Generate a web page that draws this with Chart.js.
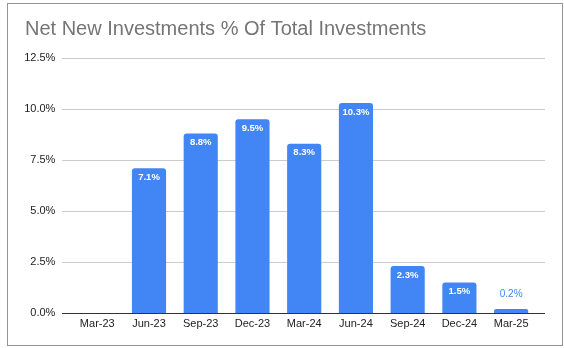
<!DOCTYPE html>
<html>
<head>
<meta charset="utf-8">
<script src="https://cdn.jsdelivr.net/npm/chart.js@4.4.1/dist/chart.umd.min.js"></script>
<style>
  html, body { margin: 0; padding: 0; background: #fff; }
  #wrap { position: relative; width: 564px; height: 348px; }
  #frame {
    position: absolute; left: 7px; top: 3px; width: 554px; height: 341px;
    border: 1px solid #939393; pointer-events: none;
  }
  canvas { position: absolute; left: 0; top: 0; }
</style>
</head>
<body>
<div id="wrap">
  <canvas id="chart" width="564" height="348"></canvas>
  <div id="frame"></div>
</div>
<script>
// quarterly net new investments as % of total
const quarters = ["Mar-23", "Jun-23", "Sep-23", "Dec-23", "Mar-24", "Jun-24", "Sep-24", "Dec-24", "Mar-25"];
const netNewPct = [null, 7.1, 8.8, 9.5, 8.3, 10.3, 2.3, 1.5, 0.2];
const yTicks = [0, 2.5, 5.0, 7.5, 10.0, 12.5];

const BLUE = "#4285f4";
const FONT = "'Liberation Sans', Arial, sans-serif";

// horizontal gridlines run a bit past the bars on both sides
const gridPlugin = {
  id: "wideGrid",
  beforeDatasetsDraw(chart) {
    const y = chart.scales.y, ctx = chart.ctx;
    const x0 = 62, x1 = 545;
    ctx.save();
    ctx.lineWidth = 1;
    yTicks.forEach(v => {
      if (v === 0) return;
      const py = Math.round(y.getPixelForValue(v)) + 0.5;
      ctx.strokeStyle = "#cccccc";
      ctx.beginPath(); ctx.moveTo(x0, py); ctx.lineTo(x1, py); ctx.stroke();
    });
    ctx.restore();
  },
  afterDatasetsDraw(chart) {
    const y = chart.scales.y, ctx = chart.ctx;
    const py = Math.round(y.getPixelForValue(0)) + 0.5;
    ctx.save();
    ctx.strokeStyle = "#333333";
    ctx.lineWidth = 1;
    ctx.beginPath(); ctx.moveTo(62, py); ctx.lineTo(545, py); ctx.stroke();
    ctx.restore();
  }
};

// value labels: inside the bar top, or above it when the bar is too short
const labelPlugin = {
  id: "barLabels",
  afterDatasetsDraw(chart) {
    const ctx = chart.ctx;
    const meta = chart.getDatasetMeta(0);
    ctx.save();
    ctx.textAlign = "center";
    ctx.textBaseline = "middle";
    meta.data.forEach((bar, i) => {
      const v = netNewPct[i];
      if (v === null) return;
      const h = bar.base - bar.y;
      if (h > 20) {
        ctx.font = "bold 9.5px " + FONT;
        ctx.fillStyle = "#ffffff";
        ctx.fillText(v.toFixed(1) + "%", bar.x, bar.y + 9);
      } else {
        ctx.font = "10px " + FONT;
        ctx.fillStyle = BLUE;
        ctx.fillText(v.toFixed(1) + "%", bar.x, bar.y - 15);
      }
    });
    ctx.restore();
  }
};

new Chart(document.getElementById("chart"), {
  type: "bar",
  data: {
    labels: quarters,
    datasets: [{
      data: netNewPct,
      backgroundColor: BLUE,
      borderRadius: 3,
      categoryPercentage: 1.0,
      barPercentage: 0.66
    }]
  },
  options: {
    responsive: false,
    animation: false,
    layout: { padding: { left: 25, right: 27, top: 17, bottom: 0 } },
    plugins: {
      legend: { display: false },
      tooltip: { enabled: false },
      title: {
        display: true,
        text: "Net New Investments % Of Total Investments",
        align: "start",
        color: "#757575",
        font: { family: FONT, size: 20, weight: "normal" },
        padding: { top: 0, bottom: 17 }
      }
    },
    scales: {
      x: {
        grid: { display: false, drawTicks: false },
        border: { display: false },
        ticks: { color: "#222222", font: { family: FONT, size: 11 }, padding: 4, maxRotation: 0 },
        afterFit: s => { s.height = 35; }
      },
      y: {
        min: 0,
        max: 12.5,
        afterBuildTicks: s => { s.ticks = yTicks.map(v => ({ value: v })); },
        grid: { display: false, drawTicks: false },
        border: { display: false },
        ticks: {
          color: "#222222",
          font: { family: FONT, size: 11 },
          padding: 16,
          callback: v => v.toFixed(1) + "%"
        },
        afterFit: s => { s.width = 46.4; }
      }
    }
  },
  plugins: [gridPlugin, labelPlugin]
});
</script>
</body>
</html>
